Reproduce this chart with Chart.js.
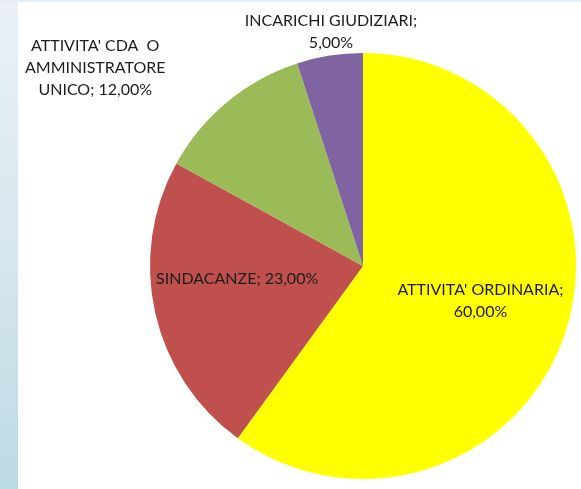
<!DOCTYPE html>
<html>
<head>
<meta charset="utf-8">
<script src="https://cdn.jsdelivr.net/npm/chart.js@4"></script>
<style>
    html, body { margin: 0; padding: 0; background: #fff; }
    #wrap {
        position: relative;
        width: 581px;
        height: 489px;
        background: #fff;
        border-top: 2px solid #e4edf3;
        box-sizing: border-box;
        overflow: hidden;
    }
    #strip {
        position: absolute;
        left: 0; top: 0;
        width: 18px; height: 100%;
        background: linear-gradient(to bottom, #e9f1f6, #d7e7ee 50%, #bcdae4);
    }
    #chart { position: absolute; left: 0; top: -2px; }
</style>
</head>
<body>
<div id="wrap">
    <div id="strip"></div>
    <canvas id="chart" width="581" height="489"></canvas>
</div>
<script>
/* -----------------------------------------
   dati
----------------------------------------- */
const categories = [
    "ATTIVITA' ORDINARIA",
    "SINDACANZE",
    "ATTIVITA' CDA  O AMMINISTRATORE UNICO",
    "INCARICHI GIUDIZIARI"
];
const values = [60, 23, 12, 5];

// righe delle etichette (come nel grafico originale)
const labelLines = [
    ["ATTIVITA' ORDINARIA;", "60,00%"],
    ["SINDACANZE; 23,00%"],
    ["ATTIVITA' CDA  O", "AMMINISTRATORE", "UNICO; 12,00%"],
    ["INCARICHI GIUDIZIARI;", "5,00%"]
];

const colors = ["#ffff00", "#c0504d", "#9bbb59", "#8064a2"];

/* -----------------------------------------
   posizione etichette (frazione raggio + spostamento)
----------------------------------------- */
const labelPlace = [
    { r: 0.56, dx: 4, dy: -2 },
    { r: 0.62, dx: 3, dy: -16 },
    { r: 1.0, dx: -132, dy: -34 },
    { r: 1.11, dx: 5, dy: -1 }
];

const pieLabels = {
    id: "pieLabels",
    afterDatasetsDraw(chart) {
        const ctx = chart.ctx;
        const meta = chart.getDatasetMeta(0);
        ctx.save();
        ctx.font = "16px Lato, 'Open Sans', sans-serif";
        ctx.fillStyle = "#1c1c1c";
        ctx.textAlign = "center";
        ctx.textBaseline = "middle";
        const lh = 22;

        meta.data.forEach((arc, i) => {
            const p = arc.getProps(["x", "y", "startAngle", "endAngle", "outerRadius"], true);
            const mid = (p.startAngle + p.endAngle) / 2;
            const pl = labelPlace[i];
            const cx = p.x + Math.cos(mid) * p.outerRadius * pl.r + pl.dx;
            const cy = p.y + Math.sin(mid) * p.outerRadius * pl.r + pl.dy;
            const lines = labelLines[i];
            const top = cy - (lines.length - 1) * lh / 2;
            lines.forEach((t, k) => ctx.fillText(t, cx, top + k * lh));
        });
        ctx.restore();
    }
};

new Chart(document.getElementById("chart"), {
    type: "pie",
    data: {
        labels: categories,
        datasets: [{
            data: values,
            backgroundColor: colors,
            borderWidth: 0
        }]
    },
    options: {
        responsive: false,
        animation: false,
        layout: { padding: { left: 150, right: 5, top: 53, bottom: 10 } },
        plugins: {
            legend: { display: false },
            tooltip: { enabled: false }
        }
    },
    plugins: [pieLabels]
});
</script>
</body>
</html>
